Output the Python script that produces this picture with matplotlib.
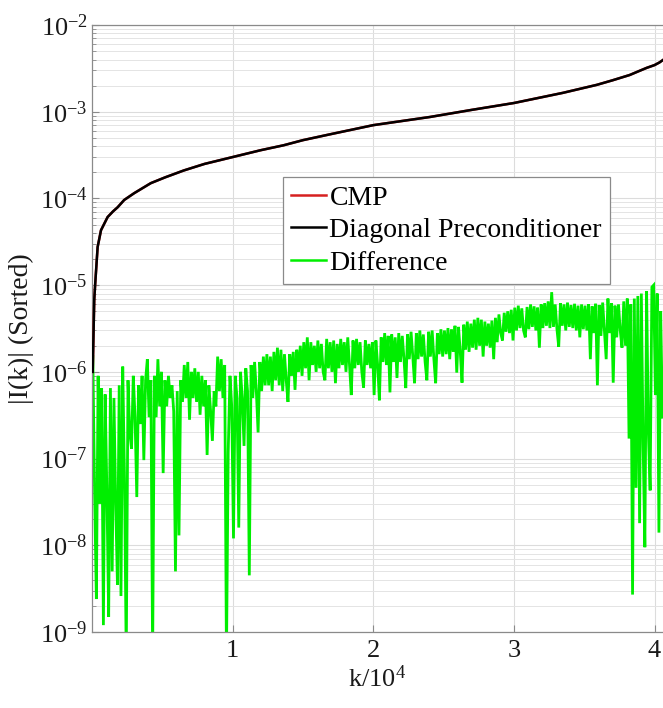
import numpy as np
import matplotlib
matplotlib.use("Agg")
import matplotlib.pyplot as plt

plt.rcParams["font.family"] = ["Liberation Serif", "DejaVu Serif"]
plt.rcParams["mathtext.fontset"] = "custom"
plt.rcParams["mathtext.rm"] = "Liberation Serif"
plt.rcParams["mathtext.default"] = "regular"
plt.rcParams["axes.unicode_minus"] = False

# Sorted |I(k)| for the diagonal preconditioner, k in units of 1e4
diag_k = [0.005, 0.016, 0.023, 0.040, 0.064, 0.111, 0.15, 0.182, 0.229, 0.3, 0.418, 0.52,
          0.652, 0.8, 1.0, 1.2, 1.362, 1.5, 1.695, 2.0, 2.404, 2.7, 3.0, 3.348, 3.589,
          3.7, 3.823, 3.88, 3.943, 4.0, 4.035, 4.06]
diag_vals = [1.0e-6, 6.8e-6, 1.05e-5, 2.75e-5, 4.3e-5, 6.1e-5, 7.1e-5, 7.9e-5, 9.6e-5,
             1.15e-4, 1.5e-4, 1.75e-4, 2.1e-4, 2.5e-4, 3.0e-4, 3.6e-4, 4.1e-4, 4.7e-4,
             5.5e-4, 7.0e-4, 8.7e-4, 1.05e-3, 1.26e-3, 1.65e-3, 2.04e-3, 2.3e-3, 2.65e-3,
             2.9e-3, 3.2e-3, 3.45e-3, 3.7e-3, 3.95e-3]
# CMP result coincides with the diagonal preconditioner curve
cmp_k = diag_k
cmp_vals = diag_vals

# Difference, sampled every 0.0125 (x 1e4) from k = 0.006
diff_step = 0.0125
diff_vals = [
    # 0.00 - 0.25
    1.5e-6, 4.0e-8, 2.4e-9, 9.0e-7, 3.0e-8, 6.5e-7, 1.2e-9, 5.5e-7, 4.0e-8, 1.5e-9,
    6.5e-7, 5.0e-9, 5.0e-7, 3.0e-8, 3.5e-9, 7.0e-7, 2.6e-9, 1.15e-6, 6.0e-8, 5.0e-10,
    # 0.25 - 0.50
    8.0e-7, 2.0e-7, 1.3e-7, 9.0e-7, 3.0e-7, 3.6e-8, 7.0e-7, 2.5e-7, 9.0e-7, 9.6e-8,
    8.0e-7, 1.4e-6, 3.0e-7, 8.0e-7, 5.0e-10, 9.0e-7, 3.0e-7, 1.4e-6, 4.0e-7, 1.0e-6,
    # 0.50 - 0.75
    6.8e-8, 8.0e-7, 4.0e-7, 9.0e-7, 5.0e-7, 7.0e-7, 3.5e-7, 5.0e-9, 6.0e-7, 1.3e-8,
    8.0e-7, 4.5e-7, 1.2e-6, 5.0e-7, 1.3e-6, 2.8e-7, 1.0e-6, 5.0e-7, 1.1e-6, 4.5e-7,
    # 0.75 - 1.00
    1.0e-6, 3.2e-7, 9.0e-7, 4.0e-7, 8.0e-7, 1.1e-7, 7.0e-7, 3.5e-7, 1.6e-7, 6.0e-7,
    4.0e-7, 1.5e-6, 6.0e-7, 1.4e-6, 5.0e-7, 1.2e-6, 5.0e-10, 1.2e-7, 9.0e-7, 4.0e-7,
    # 1.00 - 1.25
    1.2e-8, 9.0e-7, 5.0e-7, 1.6e-8, 1.0e-6, 5.0e-7, 1.4e-7, 1.1e-6, 6.0e-7, 4.5e-9,
    1.2e-6, 5.0e-7, 1.3e-6, 6.0e-7, 2.0e-7, 1.3e-6, 6.0e-7, 1.5e-6, 7.0e-7, 1.6e-6,
    # 1.25 - 1.50
    7.0e-7, 1.5e-6, 6.0e-7, 1.7e-6, 8.0e-7, 1.9e-6, 7.0e-7, 1.8e-6, 6.0e-7, 1.6e-6,
    8.0e-7, 4.5e-7, 1.6e-6, 9.0e-7, 1.7e-6, 6.2e-7, 1.8e-6, 1.0e-6, 2.0e-6, 9.0e-7,
    # 1.50 - 1.75
    2.2e-6, 1.1e-6, 2.5e-6, 8.0e-7, 2.2e-6, 1.2e-6, 2.0e-6, 1.0e-6, 2.3e-6, 1.1e-6,
    2.1e-6, 1.0e-6, 8.0e-7, 2.4e-6, 1.1e-6, 2.2e-6, 1.0e-6, 2.3e-6, 7.4e-7, 2.1e-6,
    # 1.75 - 2.00
    1.1e-6, 2.4e-6, 1.2e-6, 2.2e-6, 1.0e-6, 2.5e-6, 1.2e-6, 5.4e-7, 2.3e-6, 1.1e-6,
    2.4e-6, 1.2e-6, 2.2e-6, 1.0e-6, 6.6e-7, 2.3e-6, 1.2e-6, 2.1e-6, 1.1e-6, 2.2e-6,
    # 2.00 - 2.25
    5.4e-7, 2.3e-6, 1.2e-6, 4.7e-7, 2.5e-6, 1.3e-6, 2.8e-6, 1.2e-6, 2.6e-6, 5.8e-7,
    2.7e-6, 1.3e-6, 2.5e-6, 8.5e-7, 2.8e-6, 1.3e-6, 2.6e-6, 1.4e-6, 6.5e-7, 2.7e-6,
    # 2.25 - 2.50
    1.4e-6, 2.9e-6, 1.5e-6, 7.4e-7, 2.8e-6, 1.4e-6, 3.0e-6, 1.5e-6, 2.7e-6, 1.3e-6,
    8.0e-7, 2.9e-6, 1.5e-6, 3.0e-6, 1.4e-6, 7.4e-7, 2.8e-6, 1.6e-6, 3.1e-6, 1.5e-6,
    # 2.50 - 2.75
    3.0e-6, 1.6e-6, 3.2e-6, 1.4e-6, 3.1e-6, 1.7e-6, 3.4e-6, 9.8e-7, 3.3e-6, 1.7e-6,
    7.5e-7, 3.5e-6, 1.8e-6, 3.8e-6, 1.7e-6, 3.6e-6, 1.9e-6, 4.0e-6, 1.8e-6, 4.2e-6,
    # 2.75 - 3.00
    2.0e-6, 4.0e-6, 1.5e-6, 3.8e-6, 2.0e-6, 3.6e-6, 1.9e-6, 3.9e-6, 1.4e-6, 4.2e-6,
    2.2e-6, 4.6e-6, 2.8e-6, 2.3e-6, 4.8e-6, 2.9e-6, 5.0e-6, 2.8e-6, 5.2e-6, 2.3e-6,
    # 3.00 - 3.25
    5.5e-6, 3.0e-6, 5.8e-6, 3.2e-6, 5.4e-6, 3.0e-6, 2.5e-6, 5.6e-6, 3.1e-6, 6.0e-6,
    3.3e-6, 5.7e-6, 3.0e-6, 5.5e-6, 1.9e-6, 6.0e-6, 3.2e-6, 6.2e-6, 3.4e-6, 6.5e-6,
    # 3.25 - 3.50
    3.2e-6, 8.3e-6, 3.3e-6, 6.0e-6, 3.1e-6, 1.95e-6, 6.2e-6, 3.4e-6, 6.0e-6, 3.0e-6,
    6.3e-6, 3.3e-6, 5.9e-6, 3.2e-6, 6.1e-6, 3.0e-6, 5.8e-6, 2.5e-6, 6.0e-6, 3.1e-6,
    # 3.50 - 3.75
    5.8e-6, 3.0e-6, 6.0e-6, 1.4e-6, 5.7e-6, 2.8e-6, 6.1e-6, 7.0e-7, 5.9e-6, 2.6e-6,
    6.3e-6, 3.0e-6, 1.4e-6, 7.0e-6, 2.8e-6, 6.2e-6, 7.5e-7, 5.8e-6, 2.5e-6, 6.0e-6,
    # 3.75 - 4.00
    3.0e-6, 1.9e-6, 6.5e-6, 2.0e-6, 7.0e-6, 1.7e-7, 6.0e-6, 2.7e-9, 7.0e-6, 4.6e-8,
    7.5e-6, 1.8e-8, 8.0e-6, 1.5e-7, 9.5e-9, 8.5e-6, 2.0e-7, 4.3e-8, 9.5e-6, 1.0e-5,
    # 4.00 -
    5.4e-7, 8.0e-6, 1.4e-8, 5.0e-6, 3.0e-7,
]
diff_k = 0.006 + diff_step * np.arange(len(diff_vals))

xticks = [1, 2, 3, 4]
ydecades = [1e-9, 1e-8, 1e-7, 1e-6, 1e-5, 1e-4, 1e-3, 1e-2]

fig = plt.figure(figsize=(6.63, 7.08), dpi=100)
ax = fig.add_axes([92 / 663, 76 / 708, 571 / 663, 607 / 708])

ax.plot(cmp_k, cmp_vals, color="#d62020", lw=1.8, label="CMP", zorder=3)
ax.plot(diag_k, diag_vals, color="black", lw=1.8, label="Diagonal Preconditioner", zorder=4)
ax.plot(diff_k, diff_vals, color="#00ee00", lw=2.0, label="Difference", zorder=2,
        solid_joinstyle="miter")

ax.set_yscale("log")
ax.set_ylim(1e-9, 1e-2)
ax.set_xlim(0, 4.06)
ax.set_xticks(xticks)
ax.set_yticks(ydecades)

ax.grid(True, which="major", color="#dcdcdc", lw=0.8)
ax.grid(True, which="minor", axis="y", color="#e4e4e4", lw=0.7)
ax.set_axisbelow(True)

for side in ["left", "bottom", "top"]:
    ax.spines[side].set_color("#8a8a8a")
    ax.spines[side].set_linewidth(0.9)
ax.spines["right"].set_visible(False)

ax.tick_params(axis="both", which="both", direction="in", colors="#8a8a8a",
               labelcolor="#1a1a1a", labelsize=19)
ax.tick_params(axis="both", which="major", length=5)
ax.tick_params(axis="y", which="minor", length=3)
ax.tick_params(axis="y", pad=3)
ax.tick_params(axis="x", pad=6)

ax.set_xlabel("k/10$^{4}$", fontsize=19, color="#1a1a1a", labelpad=2)
ax.set_ylabel("|I(k)| (Sorted)", fontsize=20, color="#1a1a1a", labelpad=4)

leg = ax.legend(loc="upper left", bbox_to_anchor=(283 / 663, 1 - 177 / 708),
                bbox_transform=fig.transFigure, fontsize=20, fancybox=False,
                framealpha=1, edgecolor="#8a8a8a", borderaxespad=0,
                handlelength=1.25, handletextpad=0.12, labelspacing=0.25,
                borderpad=0.3)
leg.get_frame().set_linewidth(0.9)
for line in leg.get_lines():
    line.set_linewidth(1.8)

fig.savefig("out.png", dpi=100, facecolor="white")
